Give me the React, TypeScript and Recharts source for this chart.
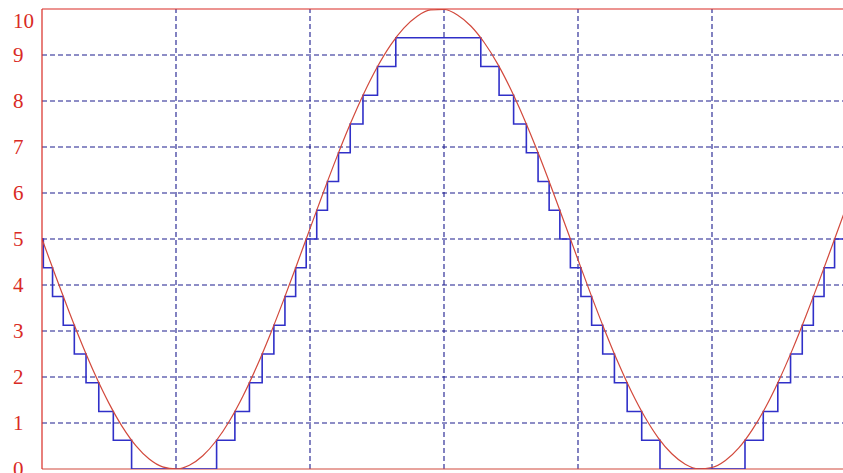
import React from "react";
import { LineChart, Line, XAxis, YAxis, ReferenceLine } from "recharts";

// Smooth analog signal (red), sampled every 0.1 grid unit
const curveX = [
  0, 0.1, 0.2, 0.3, 0.4, 0.5, 0.6, 0.7, 0.8, 0.9,
  1.0, 1.1, 1.2, 1.3, 1.4, 1.5, 1.6, 1.7, 1.8, 1.9,
  2.0, 2.1, 2.2, 2.3, 2.4, 2.5, 2.6, 2.7, 2.8, 2.9,
  3.0, 3.1, 3.2, 3.3, 3.4, 3.5, 3.6, 3.7, 3.8, 3.9,
  4.0, 4.1, 4.2, 4.3, 4.4, 4.5, 4.6, 4.7, 4.8, 4.9,
  5.0, 5.1, 5.2, 5.3, 5.4, 5.5, 5.6, 5.7, 5.8, 5.9, 6.0,
];
const curveY = [
  5.0, 4.207, 3.433, 2.7, 2.025, 1.426, 0.916, 0.509, 0.217, 0.046,
  0.001, 0.082, 0.288, 0.614, 1.05, 1.587, 2.21, 2.903, 3.65, 4.431,
  5.226, 6.016, 6.78, 7.498, 8.154, 8.729, 9.211, 9.585, 9.844, 9.979,
  9.989, 9.871, 9.631, 9.272, 8.808, 8.245, 7.6, 6.89, 6.131, 5.344,
  4.549, 3.764, 3.011, 2.308, 1.674, 1.125, 0.673, 0.331, 0.105, 0.005,
  0.032, 0.184, 0.458, 0.85, 1.343, 1.93, 2.595, 3.321, 4.09, 4.881, 5.676,
];

// Quantized (4-bit) staircase (blue): level changes
const stepX = [
  0, 0.01, 0.0787, 0.1586, 0.2412, 0.3286, 0.4237, 0.5322, 0.6686,
  1.303, 1.4394, 1.5479, 1.643, 1.7304, 1.813, 1.8929, 1.9716,
  2.0503, 2.1302, 2.2128, 2.3002, 2.3953, 2.5038, 2.6402,
  3.2746, 3.411, 3.5195, 3.6146, 3.702, 3.7846, 3.8645, 3.9432,
  4.0219, 4.1018, 4.1844, 4.2718, 4.3669, 4.4754, 4.6118,
  5.2462, 5.3826, 5.4911, 5.5862, 5.6736, 5.7562, 5.8361, 5.9148,
  5.9935, 6.0,
];
const stepY = [
  5, 4.375, 3.75, 3.125, 2.5, 1.875, 1.25, 0.625, 0,
  0.625, 1.25, 1.875, 2.5, 3.125, 3.75, 4.375, 5,
  5.625, 6.25, 6.875, 7.5, 8.125, 8.75, 9.375,
  8.75, 8.125, 7.5, 6.875, 6.25, 5.625, 5, 4.375,
  3.75, 3.125, 2.5, 1.875, 1.25, 0.625, 0,
  0.625, 1.25, 1.875, 2.5, 3.125, 3.75, 4.375, 5,
  5.625, 5.625,
];

const yTicks = [0, 1, 2, 3, 4, 5, 6, 7, 8, 9, 10];
const xGrid = [1, 2, 3, 4, 5];
const yGrid = [1, 2, 3, 4, 5, 6, 7, 8, 9];

const curveData = curveX.map((x, i) => ({ x, v: curveY[i] }));
const stepData = stepX.map((x, i) => ({ x, v: stepY[i] }));

const RED = "#d92a24";
const CURVE = "#d2493c";
const BLUE = "#3030c8";
const GRID = "#1c1c8e";

const YTick = (props: any) => {
  const { y, payload } = props;
  const val = payload.value;
  const dy = val === 10 ? 12 : 0;
  return (
    <text
      x={13}
      y={y + dy}
      textAnchor="start"
      dominantBaseline="central"
      fill={RED}
      fontFamily="'Liberation Serif', 'DejaVu Serif', serif"
      fontSize={21}
    >
      {val}
    </text>
  );
};

export default function App() {
  return (
    <div
      style={{
        position: "fixed",
        left: 0,
        top: 0,
        width: 843,
        height: 473,
        overflow: "hidden",
        background: "#ffffff",
      }}
    >
      <LineChart
        width={850}
        height={473}
        margin={{ top: 9, right: 4, bottom: 4, left: 0 }}
      >
        <XAxis
          type="number"
          dataKey="x"
          domain={[0, 6]}
          ticks={[0, 1, 2, 3, 4, 5, 6]}
          allowDataOverflow
          hide
        />
        <YAxis
          type="number"
          domain={[0, 10]}
          ticks={yTicks}
          width={42}
          axisLine={{ stroke: RED, strokeWidth: 1.2 }}
          tickLine={false}
          tick={<YTick />}
          interval={0}
          allowDataOverflow
        />
        {yGrid.map((g) => (
          <ReferenceLine
            key={"h" + g}
            y={g}
            stroke={GRID}
            strokeDasharray="5 3"
            strokeWidth={1.1}
          />
        ))}
        {xGrid.map((g) => (
          <ReferenceLine
            key={"v" + g}
            x={g}
            stroke={GRID}
            strokeDasharray="5 3"
            strokeWidth={1.1}
          />
        ))}
        <ReferenceLine y={10} stroke={RED} strokeWidth={1.2} />
        <ReferenceLine y={0} stroke={CURVE} strokeWidth={1.2} />
        <Line
          data={stepData}
          dataKey="v"
          type="stepAfter"
          stroke={BLUE}
          strokeWidth={1.6}
          dot={false}
          isAnimationActive={false}
        />
        <Line
          data={curveData}
          dataKey="v"
          type="monotone"
          stroke={CURVE}
          strokeWidth={1.2}
          dot={false}
          isAnimationActive={false}
        />
      </LineChart>
    </div>
  );
}
